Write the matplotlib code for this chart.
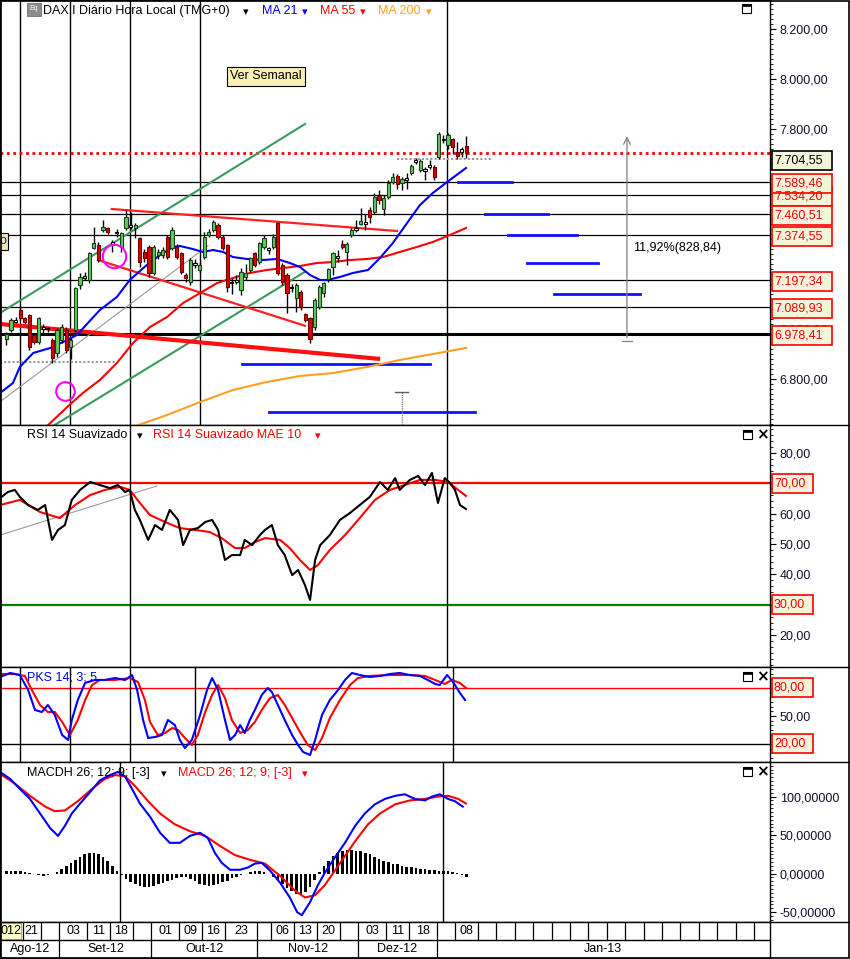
import matplotlib
matplotlib.use('Agg')
import matplotlib.pyplot as plt
from matplotlib.patches import Rectangle
from matplotlib.ticker import FixedLocator, MultipleLocator, FuncFormatter

plt.rcParams['font.family'] = ['Liberation Sans', 'DejaVu Sans']
plt.rcParams['font.size'] = 9

# ---------------- DATA (day index 0 = 16-Aug-2012 ... 100 = 10-Jan-2013) ----------------
opens = [6960, 6996, 7030, 7076, 7043, 7056, 6976, 6949, 7000, 7003,
         6956, 6903, 6956, 6996, 6930, 6996, 7176, 7205, 7196, 7323,
         7336, 7396, 7403, 7349, 7383, 7329, 7403, 7416, 7403, 7363,
         7309, 7329, 7223, 7296, 7296, 7369, 7323, 7329, 7303, 7216,
         7189, 7263, 7236, 7289, 7376, 7396, 7416, 7369, 7336, 7183,
         7196, 7156, 7210, 7236, 7303, 7269, 7329, 7323, 7329, 7423,
         7256, 7216, 7169, 7123, 7149, 7060, 7043, 7009, 7089, 7143,
         7199, 7249, 7283, 7340, 7309, 7376, 7396, 7420, 7420, 7476,
         7469, 7532, 7479, 7527, 7589, 7613, 7585, 7596, 7625, 7668,
         7636, 7632, 7649, 7647, 7687, 7760, 7736, 7759, 7707, 7710,
         7732]
highs = [6990, 7045, 7050, 7085, 7050, 7060, 6985, 7050, 7020, 7010,
         6965, 7005, 7020, 7010, 6965, 7170, 7225, 7230, 7310, 7409,
         7350, 7436, 7410, 7355, 7400, 7390, 7476, 7470, 7425, 7370,
         7320, 7336, 7336, 7320, 7330, 7376, 7409, 7340, 7310, 7225,
         7285, 7280, 7270, 7389, 7400, 7436, 7425, 7376, 7340, 7203,
         7215, 7243, 7260, 7290, 7310, 7350, 7376, 7330, 7380, 7430,
         7265, 7225, 7180, 7185, 7155, 7066, 7050, 7125, 7176, 7190,
         7245, 7310, 7316, 7356, 7350, 7403, 7436, 7483, 7460, 7490,
         7543, 7556, 7535, 7595, 7625, 7620, 7610, 7625, 7660, 7685,
         7680, 7650, 7676, 7655, 7790, 7775, 7785, 7765, 7749, 7730,
         7772]
lows = [6935, 6990, 7025, 7035, 7020, 6916, 6940, 6940, 6985, 6990,
        6863, 6890, 6945, 6905, 6880, 6990, 7160, 7195, 7183, 7320,
        7270, 7390, 7380, 7309, 7370, 7309, 7396, 7400, 7363, 7250,
        7270, 7210, 7216, 7280, 7285, 7280, 7316, 7280, 7220, 7190,
        7176, 7245, 7225, 7280, 7370, 7390, 7360, 7316, 7150, 7140,
        7180, 7136, 7196, 7229, 7250, 7260, 7320, 7300, 7320, 7216,
        7176, 7063, 7150, 7070, 7075, 7030, 6943, 6996, 7080, 7130,
        7190, 7216, 7270, 7320, 7256, 7370, 7390, 7416, 7396, 7425,
        7460, 7500, 7456, 7520, 7580, 7560, 7556, 7560, 7615, 7660,
        7630, 7596, 7640, 7596, 7680, 7745, 7720, 7700, 7680, 7690,
        7685]
closes = [6980, 7036, 7036, 7043, 7030, 6930, 6950, 7043, 7009, 7000,
          6883, 6996, 7009, 6916, 6956, 7163, 7209, 7212, 7303, 7343,
          7276, 7409, 7390, 7340, 7389, 7383, 7449, 7409, 7416, 7269,
          7283, 7223, 7329, 7309, 7316, 7289, 7396, 7289, 7229, 7203,
          7276, 7256, 7256, 7369, 7389, 7429, 7369, 7323, 7169, 7189,
          7189, 7229, 7223, 7283, 7256, 7343, 7363, 7318, 7369, 7223,
          7189, 7143, 7163, 7176, 7089, 7036, 6960, 7116, 7169, 7183,
          7239, 7303, 7292, 7327, 7340, 7396, 7405, 7433, 7430, 7449,
          7529, 7516, 7525, 7585, 7609, 7580, 7599, 7605, 7652, 7676,
          7672, 7639, 7657, 7607, 7780, 7755, 7776, 7729, 7693, 7719,
          7704.55]

ma21_day = [-1.4, 1.4, 2.9, 5.8, 9.5, 13.2, 15.3, 20.3, 24.0, 26.8, 30.5, 33.4, 36.2, 37.7,
            40.5, 42.7, 44.9, 47.1, 49.2, 52.3, 55.8, 58.8, 61.6, 63.8, 66.0, 68.2, 69.7,
            72.5, 75.3, 78.6, 81.2, 84.0, 87.1, 89.9, 92.7, 95.8, 99.9]
ma21_val = [6744, 6784, 6848, 6904, 6924, 6956, 6976, 7076, 7128, 7196, 7256, 7296, 7328, 7332,
            7320, 7308, 7316, 7308, 7288, 7280, 7276, 7280, 7264, 7248, 7216, 7196, 7196,
            7208, 7224, 7236, 7284, 7344, 7424, 7496, 7544, 7588, 7644]
ma55_day = [7.0, 13.2, 16.6, 20.3, 24.0, 27.5, 31.2, 34.9, 38.4, 42.1, 45.8, 49.2, 52.9,
            56.6, 60.1, 63.8, 67.5, 71.0, 74.7, 78.4, 81.9, 85.5, 89.2, 92.7, 96.4, 99.9]
ma55_val = [6580, 6688, 6744, 6796, 6864, 6944, 7008, 7048, 7104, 7144, 7184, 7204, 7224,
            7236, 7244, 7252, 7264, 7268, 7276, 7280, 7288, 7308, 7328, 7348, 7376, 7404]
ma200_day = [27.0, 34.9, 42.1, 49.2, 56.6, 63.8, 71.0, 78.4, 85.5, 92.7, 99.9]
ma200_val = [6605, 6656, 6708, 6756, 6788, 6812, 6824, 6848, 6876, 6900, 6924]

levels = [7534.20, 7589.46, 7460.51, 7374.55, 7197.34, 7089.93, 6978.41]
last_price = 7704.55

rsi_day = [-1.4, 0.3, 1.8, 2.9, 4.7, 6.8, 8.4, 9.9, 11.2, 12.7, 14.2, 16.0, 18.2, 20.3, 22.5,
           24.2, 25.8, 26.8, 27.9, 29.0, 30.8, 32.3, 33.8, 35.5, 37.3, 38.4, 39.9, 41.6, 43.2,
           44.7, 46.0, 47.5, 49.0, 50.8, 51.8, 53.4, 55.1, 56.2, 57.7, 59.0, 60.5, 62.1, 63.4,
           64.9, 66.0, 67.1, 68.2, 70.3, 72.5, 74.7, 76.8, 79.0, 81.2, 82.9, 84.5, 85.5, 87.7,
           89.5, 91.0, 92.5, 93.8, 95.3, 96.4, 97.5, 98.6, 99.9]
rsi_val = [65.1, 67.1, 67.8, 65.5, 62.8, 61.2, 62.8, 51.3, 54.6, 56.2, 64.5, 67.8, 70.4, 69.4,
           68.4, 69.4, 67.1, 67.8, 61.2, 57.9, 51.3, 56.2, 54.6, 61.2, 57.9, 49.6, 54.6, 55.2,
           57.2, 57.9, 54.6, 44.7, 46.3, 46.3, 51.3, 49.6, 52.9, 54.6, 56.2, 49.6, 46.3, 39.7,
           41.4, 36.4, 31.5, 44.7, 49.6, 52.9, 57.9, 60.2, 62.8, 65.5, 70.4, 67.8, 71.7, 67.8,
           71.1, 72.4, 69.4, 73.4, 63.5, 71.7, 70.1, 67.8, 62.8, 61.5]
rsima_day = [-1.4, 2.9, 7.3, 11.6, 14.9, 18.2, 21.4, 24.7, 26.8, 29.0, 31.2, 34.5, 37.7, 41.0,
             44.2, 46.8, 49.7, 51.8, 54.0, 56.2, 59.5, 61.6, 63.8, 66.0, 67.7, 70.3, 73.6,
             76.8, 80.1, 83.4, 86.6, 89.9, 93.2, 96.0, 98.2, 99.9]
rsima_val = [62.8, 64.5, 60.5, 58.5, 62.8, 66.1, 67.8, 68.8, 67.8, 63.5, 59.5, 57.2, 55.2, 54.6,
             53.9, 51.9, 48.6, 48.6, 50.6, 51.9, 51.3, 48.6, 44.7, 41.4, 43.0, 48.0, 52.9,
             58.5, 64.5, 67.8, 69.4, 71.1, 71.1, 70.4, 67.8, 65.8]

pk_day = [-1.4, 0.8, 2.9, 4.7, 6.2, 7.7, 9.0, 10.5, 12.1, 13.4, 14.2, 15.5, 17.1, 19.2, 21.4,
          23.6, 25.8, 27.3, 28.4, 29.7, 30.8, 32.3, 33.8, 35.1, 36.6, 37.7, 38.8, 40.3, 42.1,
          43.6, 44.7, 46.0, 47.5, 48.6, 49.7, 50.8, 51.8, 52.9, 54.0, 55.5, 56.8, 57.7, 59.0,
          60.5, 62.1, 63.4, 64.5, 66.0, 67.1, 68.6, 70.3, 72.1, 73.6, 75.1, 76.8, 79.0, 81.2,
          83.4, 85.5, 87.7, 89.9, 91.6, 93.2, 94.2, 95.8, 97.1, 98.6, 99.7]
pk_val = [91.8, 96.1, 93.9, 77.9, 56.4, 54.3, 61.8, 51.1, 29.6, 24.3, 45.7, 67.1, 85.4, 88.6,
          88.6, 90.7, 88.6, 93.9, 77.9, 45.7, 26.4, 27.5, 29.6, 45.7, 40.3, 24.3, 15.7, 24.3,
          51.1, 77.9, 90.7, 77.9, 45.7, 24.3, 29.6, 40.3, 31.8, 45.7, 56.4, 72.5, 80.0, 75.7,
          61.8, 45.7, 29.6, 18.9, 11.4, 8.2, 24.3, 51.1, 67.1, 77.9, 88.6, 96.1, 93.9, 91.8,
          92.9, 95.0, 96.1, 93.9, 92.9, 88.6, 84.3, 83.2, 93.9, 86.4, 74.6, 67.1]
pd_day = [-1.4, 1.8, 4.0, 5.5, 7.3, 9.0, 10.5, 12.1, 13.8, 15.5, 17.1, 18.6, 20.3, 23.6, 26.8,
          28.6, 30.1, 31.2, 32.9, 34.5, 36.0, 37.3, 38.8, 40.3, 41.6, 43.2, 44.7, 46.0, 47.5,
          49.0, 50.8, 52.5, 54.0, 55.5, 57.3, 59.0, 60.5, 62.1, 63.8, 65.5, 67.1, 68.6, 70.3,
          72.5, 74.7, 76.4, 79.0, 83.4, 87.7, 91.0, 93.2, 95.3, 96.8, 98.6, 99.9]
pd_val = [95.0, 95.0, 92.9, 77.9, 61.8, 54.3, 54.3, 43.6, 29.6, 45.7, 67.1, 83.2, 88.6, 88.6,
          90.7, 86.4, 67.1, 43.6, 29.6, 31.8, 37.1, 35.0, 26.4, 18.9, 29.6, 54.3, 72.5, 83.2,
          69.3, 45.7, 31.8, 35.0, 43.6, 56.4, 69.3, 72.5, 61.8, 47.8, 32.8, 18.9, 13.5, 26.4,
          47.8, 67.1, 83.2, 90.7, 92.9, 93.9, 93.9, 92.9, 88.6, 84.3, 88.6, 85.4, 80.0]

macd_day = [-1.4, 0.8, 2.9, 5.1, 7.3, 9.5, 11.2, 12.7, 14.2, 16.0, 18.2, 20.3, 22.5, 24.2,
            25.8, 27.3, 29.0, 31.2, 33.4, 35.5, 37.7, 39.9, 42.1, 43.8, 45.3, 46.8, 48.6,
            50.8, 52.5, 54.0, 55.5, 57.3, 59.5, 61.6, 63.2, 64.2, 66.0, 67.7, 69.2, 71.4,
            73.6, 75.8, 77.9, 80.1, 82.3, 84.5, 86.6, 88.8, 91.0, 92.5, 94.2, 96.0, 97.5, 99.2]
macd_val = [132, 123, 110, 97, 78, 59, 49, 62, 78, 91, 106, 121, 128, 132,
            126, 110, 91, 74, 53, 40, 40, 49, 53, 46, 27, 14, 5,
            5, 8, 13, 14, 4, -12, -31, -50, -54, -37, -15, 1, 21,
            40, 62, 78, 90, 97, 101, 103, 97, 95, 100, 103, 97, 94, 87]
sig_day = [-1.4, 1.8, 5.1, 8.4, 10.5, 12.7, 15.5, 18.6, 21.4, 23.6, 25.8, 27.9, 30.8, 33.4,
           36.6, 39.9, 43.2, 46.4, 49.7, 52.9, 56.2, 59.5, 62.7, 64.9, 67.1, 69.2, 71.4,
           73.6, 75.8, 78.6, 81.2, 84.5, 87.7, 91.0, 93.8, 96.0, 98.2, 99.9]
sig_val = [129.5, 117, 101, 87, 81, 82, 94, 110, 123, 128, 126, 114, 94, 78,
           64, 55, 49, 36, 24, 18, 13, -3, -22, -31, -28, -15, 4,
           23, 42, 64, 78, 90, 95, 97, 100, 101, 97, 91]
macd_hist = [3, 4, 4, 3, 2, 1, -1, -2, -3, -2, -1,
             2, 6, 10, 14, 18, 22, 25, 27, 27, 25, 21, 16,
             10, 4, -2, -7,
             -11, -14, -16, -17, -17, -16, -14, -12, -10, -8, -6, -5,
             -5, -7, -10, -13, -15, -16, -15, -13, -11, -9, -6, -4, -2, 0,
             2, 3, 3, 2, 0,
             -4, -9, -14, -19, -23, -26, -27, -24,
             -17, -8, 2, 10, 17,
             23, 27, 30, 31, 31, 30, 29, 27, 25, 22,
             19, 17, 15, 13, 12, 10, 9, 8, 7, 6,
             6, 5, 5, 4, 4, 3, 2, 1, -2, -5]

week_bounds = [3.5, 7.5, 11.5, 17.5, 22.5, 27.5, 31.5, 37.5, 42.5, 47.5, 54.5, 57.5, 62.5,
               67.5, 72.5, 76.5, 82.5, 87.5, 93.5, 97.5, 102.5]
week_labels = {(3.5, 7.5): '21', (11.5, 17.5): '03', (17.5, 22.5): '11', (22.5, 27.5): '18',
               (31.5, 37.5): '01', (37.5, 42.5): '09', (42.5, 47.5): '16', (47.5, 54.5): '23',
               (57.5, 62.5): '06', (62.5, 67.5): '13', (67.5, 72.5): '20', (76.5, 82.5): '03',
               (82.5, 87.5): '11', (87.5, 93.5): '18', (97.5, 102.5): '08'}
month_bounds = [11.5, 31.5, 54.5, 76.5, 93.5]
month_labels = ['Ago-12', 'Set-12', 'Out-12', 'Nov-12', 'Dez-12', 'Jan-13']

# ---------------- FIGURE ----------------
W, H = 850, 959
PW = 770
fig = plt.figure(figsize=(W / 100, H / 100), dpi=100)
XL = (-1.41, 166.0)


def fpx(x, y):
    return x / W, 1 - y / H


def fmt_br(v, nd=2):
    s = f"{v:,.{nd}f}"
    return s.replace(',', '_').replace('.', ',').replace('_', '.')


def fmt_skip(hidden, nd=2):
    def f(v, p):
        if any(abs(v - h) < 1e-6 for h in hidden):
            return ''
        return fmt_br(v, nd)
    return FuncFormatter(f)


def panel(top, bottom):
    ax = fig.add_axes([0, 1 - bottom / H, PW / W, (bottom - top) / H])
    ax.set_xlim(*XL)
    ax.set_xticks([])
    ax.yaxis.tick_right()
    for s in ax.spines.values():
        s.set_color('black')
        s.set_linewidth(1)
    ax.tick_params(axis='y', which='both', direction='out', colors='black',
                   labelcolor='#101030', labelsize=9, pad=3)
    ax.tick_params(axis='y', which='major', length=4)
    ax.tick_params(axis='y', which='minor', length=2)
    return ax


def value_box(ax, v, text, ec, tc, width, dy=1.5):
    yd = ax.transData.transform((0, v))[1]
    ypx = H - yd + dy
    r = Rectangle(fpx(772, ypx + 9.5), width / W, 19 / H, transform=fig.transFigure,
                  fc='#F4F4DA', ec=ec, lw=1.2, zorder=5)
    fig.add_artist(r)
    fig.text(*fpx(774, ypx), text, color=tc, fontsize=9, ha='left', va='center', zorder=6)


def icons(y, with_x=True):
    x0 = 743 if with_x else 742
    fig.add_artist(Rectangle(fpx(x0, y + 9), 9 / W, 9 / H, transform=fig.transFigure,
                             fc='white', ec='black', lw=0.8, zorder=6))
    fig.add_artist(Rectangle(fpx(x0, y + 2), 9 / W, 2 / H, transform=fig.transFigure,
                             fc='black', ec='black', lw=0.5, zorder=6))
    if with_x:
        fig.text(*fpx(762, y + 4.5), '×', fontsize=11, fontweight='bold', ha='center',
                 va='center', zorder=6, family=['DejaVu Sans'])


def arrow_mark(x, y, color):
    fig.text(*fpx(x, y), '▾', color=color, va='center', ha='center', fontsize=8, zorder=6,
             family=['DejaVu Sans'])


# ---------- main panel ----------
ax = panel(0, 425)
ax.set_ylim(6616, 8316)
ax.yaxis.set_major_locator(FixedLocator(list(range(6800, 8201, 200))))
ax.yaxis.set_minor_locator(MultipleLocator(20))
ax.yaxis.set_major_formatter(fmt_skip([7600, 7400, 7200]))

days = list(range(len(closes)))
for lv in levels:
    ax.axhline(lv, color='black', lw=2.2 if lv == 6978.41 else 0.9, zorder=1)
ax.axhline(last_price, color='#FF0000', lw=2, ls=(0, (1, 1.3)), zorder=2)

for xv in [2.9, 13.8, 26.8, 42.1, 95.8]:
    ax.axvline(xv, color='black', lw=1, zorder=1)

# trend lines
ax.plot([-1.41, 64.9], [7064, 7820], color='#3A9A5E', lw=1.5, zorder=2)
ax.plot([9.5, 64.9], [6605, 7229], color='#3A9A5E', lw=1.5, zorder=2)
ax.plot([-1.41, 43.8], [6709, 7333], color='#9A9A9A', lw=0.8, zorder=2)
ax.plot([22.9, 84.9], [7480, 7392], color='#FF2020', lw=1.6, zorder=2)
ax.plot([19.9, 64.9], [7276, 7013], color='#FF2020', lw=1.6, zorder=2)
ax.plot([-1.41, 80.8], [7020, 6881], color='#FF1010', lw=3, zorder=2)
ax.plot([84.9, 105.8], [7679, 7679], color='#999999', lw=1.5, ls=(0, (1, 1)), zorder=2)
ax.plot([-1.41, 23.6], [6868, 6868], color='#999999', lw=1.5, ls=(0, (1, 1)), zorder=2)

# projection segments
for a, b, p in [(98.2, 109.9, 7589.46), (104.0, 117.7, 7460.51), (109.0, 124.0, 7374.55),
                (113.2, 128.6, 7264), (119.0, 137.7, 7140), (51.2, 92.1, 6860),
                (57.1, 101.8, 6668)]:
    ax.plot([a, b], [p, p], color='#1010FF', lw=2, zorder=3)

# moving averages
ax.plot(ma200_day, ma200_val, color='#FFA020', lw=1.5, zorder=3)
ax.plot(ma55_day, ma55_val, color='#FF0000', lw=1.5, zorder=3)
ax.plot(ma21_day, ma21_val, color='#0000FF', lw=1.5, zorder=3)

# candles
bcol, ecol = [], []
for o, c in zip(opens, closes):
    if abs(c - o) <= 12:
        bcol.append('white'); ecol.append('black')
    elif c > o:
        bcol.append('#5FCB5F'); ecol.append('#1E3E1E')
    else:
        bcol.append('#E00000'); ecol.append('#700000')
ax.vlines(days, lows, highs, color='black', lw=1, zorder=4)
bottoms = [min(o, c) for o, c in zip(opens, closes)]
heights = [max(abs(c - o), 4) for o, c in zip(opens, closes)]
ax.bar(days, heights, bottom=bottoms, width=0.7, color=bcol, edgecolor=ecol, lw=0.8, zorder=5)

# circles
ax.plot([23.4], [7293], marker='o', ms=16.8, mfc='none', mec='#FF00FF', mew=1.5, zorder=6)
ax.plot([12.8], [6753], marker='o', ms=13.4, mfc='none', mec='#FF00FF', mew=1.5, zorder=6)

# measurement arrow
ax.annotate('', xy=(134.9, 7782.30), xytext=(134.9, 6953.46),
            arrowprops=dict(arrowstyle='->', color='#808080', lw=0.9, mutation_scale=12))
ax.plot([133.8, 136.0], [6953.46, 6953.46], color='#808080', lw=0.9)
ax.text(136.2, 7324, '11,92%(828,84)', fontsize=9, ha='left', va='center', color='black')
ax.plot([85.9, 85.9], [6600, 6748], color='#8A8A8A', lw=1, ls=(0, (1, 0.6)), zorder=3)
ax.plot([84.4, 87.4], [6748, 6748], color='#606060', lw=1, zorder=3)

# right boxes
value_box(ax, last_price, fmt_br(last_price), 'black', 'black', 60, dy=7.5)
for lv in levels:
    value_box(ax, lv, fmt_br(lv), '#FF0000', '#FF0000', 60)

# header
fig.add_artist(Rectangle(fpx(27, 16), 14 / W, 13 / H, transform=fig.transFigure,
                         fc='#8C8C8C', ec='#606060', lw=0.5, zorder=6))
fig.text(*fpx(34, 8), 'Eq', fontsize=5, color='white', ha='center', va='center', zorder=7)
fig.text(*fpx(43, 11), 'DAX.I Diário Hora Local (TMG+0)', color='black', va='center', zorder=6)
arrow_mark(246, 12, 'black')
fig.text(*fpx(262, 11), 'MA 21', color='#0000FF', va='center', zorder=6)
arrow_mark(305, 12, '#0000FF')
fig.text(*fpx(320, 11), 'MA 55', color='#FF0000', va='center', zorder=6)
arrow_mark(363, 12, '#FF0000')
fig.text(*fpx(378, 11), 'MA 200', color='#FFA020', va='center', zorder=6)
arrow_mark(429, 12, '#FFA020')
icons(4, with_x=False)

fig.text(*fpx(266, 76), 'Ver Semanal', ha='center', va='center', color='black', zorder=7,
         bbox=dict(boxstyle='square,pad=0.28', fc='#FBF0B4', ec='black', lw=0.8))
fig.add_artist(Rectangle(fpx(-2, 250), 10 / W, 17 / H, transform=fig.transFigure,
                         fc='#F3E4B8', ec='black', lw=0.8, zorder=6))
fig.text(*fpx(3, 241), 'o', ha='center', va='center', color='#202060', zorder=7)

# ---------- RSI panel ----------
ar = panel(425, 667)
ar.set_ylim(9.4, 89.2)
ar.yaxis.set_major_locator(FixedLocator([20, 30, 40, 50, 60, 70, 80]))
ar.yaxis.set_minor_locator(MultipleLocator(2))
ar.yaxis.set_major_formatter(fmt_skip([30, 70]))
ar.axhline(70, color='#FF0000', lw=1.6)
ar.axhline(30, color='#008000', lw=1.6)
for xv in [26.8, 95.8]:
    ar.axvline(xv, color='black', lw=1)
ar.plot([-1.41, 32.7], [52.9, 69.1], color='#9A9A9A', lw=0.8)
ar.plot(rsima_day, rsima_val, color='#FF0000', lw=1.5)
ar.plot(rsi_day, rsi_val, color='black', lw=1.5)
value_box(ar, 70, '70,00', '#FF0000', '#FF0000', 41, dy=0)
value_box(ar, 30, '30,00', '#FF0000', '#FF0000', 41, dy=0)
fig.text(*fpx(27, 435), 'RSI 14 Suavizado', color='black', va='center', zorder=6)
arrow_mark(140, 436, 'black')
fig.text(*fpx(153, 435), 'RSI 14 Suavizado MAE 10', color='#FF0000', va='center', zorder=6)
arrow_mark(318, 436, '#FF0000')
icons(430)

# ---------- PKS panel ----------
ap = panel(667, 762)
ap.set_ylim(0.7, 102.5)
ap.yaxis.set_major_locator(FixedLocator([20, 50, 80]))
ap.yaxis.set_minor_locator(MultipleLocator(5))
ap.yaxis.set_major_formatter(fmt_skip([20, 80]))
ap.axhline(80, color='#FF0000', lw=1)
ap.axhline(20, color='black', lw=1)
for xv in [2.9, 13.8, 26.8, 41.0, 97.1]:
    ap.axvline(xv, color='black', lw=1)
ap.plot(pd_day, pd_val, color='#FF0000', lw=1.5)
ap.plot(pk_day, pk_val, color='#0000FF', lw=1.5)
value_box(ap, 80, '80,00', '#FF0000', '#FF0000', 41, dy=0)
value_box(ap, 20, '20,00', '#FF0000', '#FF0000', 41, dy=0)
fig.text(*fpx(27, 678), 'PKS 14; 3; 5', color='#0000FF', va='center', zorder=6)
icons(672)

# ---------- MACD panel ----------
am = panel(762, 922)
am.set_ylim(-62.8, 144.9)
am.yaxis.set_major_locator(FixedLocator([-50, 0, 50, 100]))
am.yaxis.set_minor_locator(MultipleLocator(5))
am.yaxis.set_major_formatter(FuncFormatter(lambda v, p: fmt_br(v, 5)))
for xv in [24.7, 94.9]:
    am.axvline(xv, color='black', lw=1)
am.bar(days, macd_hist, width=0.55, color='black', zorder=2)
am.plot(sig_day, sig_val, color='#FF0000', lw=1.5, zorder=3)
am.plot(macd_day, macd_val, color='#0000FF', lw=1.5, zorder=3)
fig.text(*fpx(27, 773), 'MACDH 26; 12; 9; [-3]', color='black', va='center', zorder=6)
arrow_mark(164, 774, 'black')
fig.text(*fpx(178, 773), 'MACD 26; 12; 9; [-3]', color='#FF0000', va='center', zorder=6)
arrow_mark(305, 774, '#FF0000')
icons(767)

# ---------- date axis ----------
ad = fig.add_axes([0, 1 - 958 / H, PW / W, 36 / H])
ad.set_xlim(*XL)
ad.set_ylim(0, 2)
ad.set_xticks([]); ad.set_yticks([])
for s in ad.spines.values():
    s.set_color('black'); s.set_linewidth(1)
ad.axhline(1, color='black', lw=1)
wb = list(week_bounds)
nxt = week_bounds[-1] + 4
while nxt < XL[1]:
    wb.append(nxt)
    nxt += 4
for b in wb:
    ad.plot([b, b], [1, 2], color='black', lw=0.9)
for (a, b), lab in week_labels.items():
    ad.text((a + b) / 2, 1.5, lab, ha='center', va='center', fontsize=9)
ad.add_patch(Rectangle((-1.41, 1.06), 4.6, 0.88, fc='#FFFFC8', ec='#B0B070', lw=0.8))
ad.text(0.9, 1.5, '012', ha='center', va='center', fontsize=9)
mb = [XL[0]] + month_bounds + [XL[1]]
for b in month_bounds:
    ad.plot([b, b], [0, 1], color='black', lw=0.9)
for i, lab in enumerate(month_labels):
    ad.text((mb[i] + mb[i + 1]) / 2, 0.5, lab, ha='center', va='center', fontsize=9)

# ---------- frame lines on right column ----------
for yy in [425, 667, 762, 922]:
    fig.add_artist(plt.Line2D([PW / W, 1], [1 - yy / H] * 2, transform=fig.transFigure,
                              color='black', lw=1, zorder=6))
fig.add_artist(Rectangle((0.0006, 0.0006), 0.9985, 0.9985, transform=fig.transFigure,
                         fc='none', ec='black', lw=1.2, zorder=8))

fig.savefig('out.png', dpi=100)
